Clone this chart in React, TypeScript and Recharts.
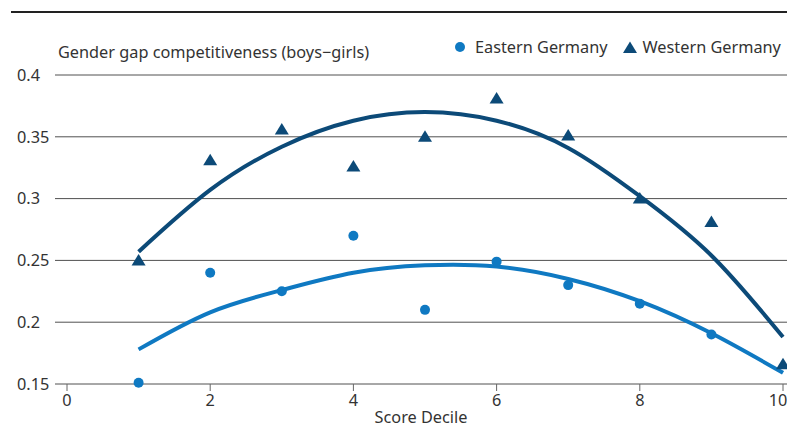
import React from 'react';
import {
  ComposedChart,
  Line,
  Scatter,
  XAxis,
  YAxis,
  CartesianGrid,
  Legend,
  Label
} from 'recharts';

const deciles = [1, 2, 3, 4, 5, 6, 7, 8, 9, 10];
const eastValues = [0.151, 0.24, 0.225, 0.27, 0.21, 0.249, 0.23, 0.215, 0.19, null];
const westValues = [0.25, 0.331, 0.356, 0.326, 0.35, 0.381, 0.351, 0.3, 0.281, 0.166];
// quadratic fit lines at each decile
const eastFit = [0.178, 0.208, 0.226, 0.24, 0.246, 0.245, 0.235, 0.217, 0.191, 0.159];
const westFit = [0.257, 0.307, 0.342, 0.363, 0.37, 0.363, 0.341, 0.302, 0.254, 0.188];

const xTicks = [0, 2, 4, 6, 8, 10];
const yTicks = [0.15, 0.2, 0.25, 0.3, 0.35, 0.4];

const EAST = '#0f79c2';
const WEST = '#0c4a78';
const FONT = '"Noto Sans", "Open Sans", sans-serif';
const TEXT = '#333333';
const FS = 16.3;
const W = 795;
const H = 432;

const data = deciles.map((d, i) => ({
  d,
  east: eastValues[i],
  west: westValues[i],
  eastFit: eastFit[i],
  westFit: westFit[i]
}));

const Dot = (props: any) => {
  const { cx, cy } = props;
  if (cx == null || cy == null) return null;
  return <circle cx={cx} cy={cy} r={5} fill={EAST} />;
};

const Tri = (props: any) => {
  const { cx, cy } = props;
  if (cx == null || cy == null) return null;
  return (
    <polygon
      points={`${cx},${cy - 6.5} ${cx - 7},${cy + 5} ${cx + 7},${cy + 5}`}
      fill={WEST}
    />
  );
};

const YTick = (props: any) => (
  <text x={17} y={props.y} dy="0.35em" textAnchor="start" fill={TEXT} fontSize={FS} fontFamily={FONT}>
    {props.payload.value}
  </text>
);

// last label is nudged in so it is not cut at the right edge
const XTick = (props: any) => (
  <text x={Math.min(props.x, 778)} y={props.y} dy="0.8em" textAnchor="middle" fill={TEXT} fontSize={FS} fontFamily={FONT}>
    {props.payload.value}
  </text>
);

const renderLegend = () => (
  <div style={{ display: 'flex', alignItems: 'center', fontFamily: FONT, fontSize: FS, color: TEXT, whiteSpace: 'nowrap' }}>
    <svg width={14} height={14} style={{ marginRight: 8 }}>
      <circle cx={7} cy={7} r={5} fill={EAST} />
    </svg>
    <span style={{ marginRight: 14 }}>Eastern Germany</span>
    <svg width={16} height={14} style={{ marginRight: 5 }}>
      <polygon points="8,1.5 1,13 15,13" fill={WEST} />
    </svg>
    <span>Western Germany</span>
  </div>
);

export default function App() {
  return (
    <div style={{ position: 'relative', width: W, height: H, margin: -8, overflow: 'hidden' }}>
      <div style={{ position: 'absolute', left: 11, top: 11, width: 784, height: 2, background: '#222' }} />
      <ComposedChart
        width={W}
        height={H}
        data={data}
        margin={{ top: 75, right: 0, bottom: 0, left: 0 }}
      >
        <CartesianGrid horizontal vertical={false} stroke="#505050" strokeWidth={1} />
        <XAxis
          dataKey="d"
          type="number"
          domain={[0, 10]}
          ticks={xTicks}
          padding={{ left: 12, right: 12 }}
          height={48}
          axisLine={false}
          tickLine={{ stroke: '#666' }}
          tickSize={7}
          tick={<XTick />}
        >
          <Label
            value="Score Decile"
            position="insideBottom"
            offset={9}
            dx={-4}
            fill={TEXT}
            fontSize={FS}
            fontFamily={FONT}
          />
        </XAxis>
        <YAxis
          type="number"
          domain={[0.15, 0.4]}
          ticks={yTicks}
          width={55}
          axisLine={false}
          tickLine={false}
          tick={<YTick />}
        />
        <Legend
          layout="horizontal"
          verticalAlign="middle"
          align="center"
          content={renderLegend}
          wrapperStyle={{ top: 36, left: 453, width: 'auto', height: 'auto' }}
        />
        <Line dataKey="eastFit" type="natural" stroke={EAST} strokeWidth={4} dot={false} activeDot={false} isAnimationActive={false} legendType="none" />
        <Line dataKey="westFit" type="natural" stroke={WEST} strokeWidth={4} dot={false} activeDot={false} isAnimationActive={false} legendType="none" />
        <Scatter dataKey="east" shape={<Dot />} isAnimationActive={false} />
        <Scatter dataKey="west" shape={<Tri />} isAnimationActive={false} />
      </ComposedChart>
      <div
        style={{ position: 'absolute', left: 58, top: 41, fontFamily: FONT, fontSize: FS, color: TEXT, whiteSpace: 'nowrap' }}
      >
        Gender gap competitiveness (boys−girls)
      </div>
    </div>
  );
}
